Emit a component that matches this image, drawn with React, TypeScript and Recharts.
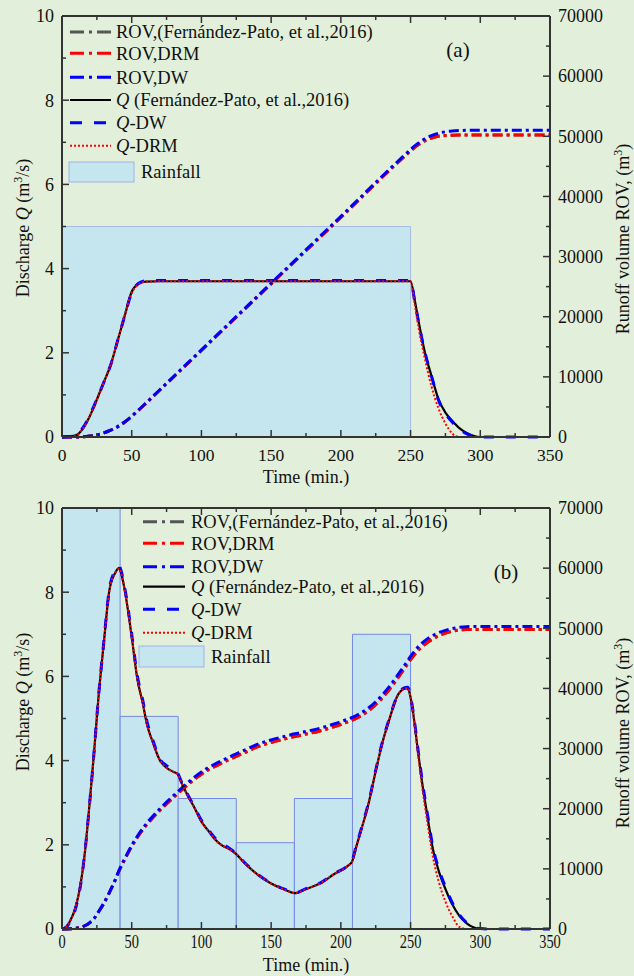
import React from "react"
import { ComposedChart, Line, XAxis, YAxis, ReferenceArea } from "recharts"

const FONT = '"Liberation Serif", "Times New Roman", serif'
const BG = "#e2efda"
const RAIN_FILL = "#c5e5ef"
const AXIS = "#333"

// shared ticks
const timeTicks = [0, 25, 50, 75, 100, 125, 150, 175, 200, 225, 250, 275, 300, 325, 350]
const qTicks = [0, 1, 2, 3, 4, 5, 6, 7, 8, 9, 10]
const rovTicks = [0, 5000, 10000, 15000, 20000, 25000, 30000, 35000, 40000, 45000, 50000, 55000, 60000, 65000, 70000]

// ---- panel (a): constant rainfall ----
const timeA = [0, 5, 10, 15, 20, 25, 30, 35, 40, 45, 50, 55, 60, 70, 100, 150, 200, 250, 253, 256, 260, 265, 270, 275, 280, 285, 290, 295, 300, 310, 350]
const qFpA = [0, 0.01, 0.04, 0.2, 0.5, 0.89, 1.3, 1.72, 2.3, 2.88, 3.45, 3.64, 3.69, 3.7, 3.7, 3.7, 3.7, 3.7, 3.25, 2.7, 2.05, 1.45, 0.9, 0.58, 0.38, 0.21, 0.1, 0.03, 0, 0, 0]
const qDwA = [0, 0.01, 0.05, 0.22, 0.52, 0.9, 1.3, 1.72, 2.3, 2.88, 3.43, 3.65, 3.71, 3.72, 3.72, 3.72, 3.72, 3.72, 3.22, 2.68, 2.05, 1.45, 0.88, 0.56, 0.35, 0.19, 0.08, 0.02, 0, 0, 0]
const qDrmA = [0, 0, 0.03, 0.2, 0.5, 0.88, 1.3, 1.72, 2.3, 2.9, 3.42, 3.63, 3.69, 3.7, 3.7, 3.7, 3.7, 3.7, 3.15, 2.55, 1.9, 1.2, 0.68, 0.32, 0.08, 0, 0, 0, 0, 0, 0]
const rovDwA = [0, 0, 10, 40, 150, 350, 680, 1130, 1730, 2500, 3450, 4500, 5600, 7820, 14480, 25580, 36680, 47780, 48400, 48950, 49550, 50100, 50500, 50750, 50880, 50950, 50990, 51000, 51000, 51000, 51000]
const rovDrmA = [0, 0, 10, 40, 150, 350, 680, 1130, 1730, 2490, 3430, 4470, 5560, 7770, 14400, 25450, 36500, 47550, 48150, 48680, 49220, 49700, 50000, 50130, 50190, 50200, 50200, 50200, 50200, 50200, 50200]
const rovFpA = [0, 0, 10, 40, 150, 350, 680, 1130, 1730, 2490, 3430, 4470, 5560, 7770, 14400, 25450, 36500, 47550, 48150, 48680, 49220, 49700, 50000, 50130, 50190, 50200, 50200, 50200, 50200, 50200, 50200]
const rainStartA = [0]
const rainEndA = [250]
const rainA = [5]

// ---- panel (b): variable rainfall ----
const timeB = [0, 3, 6, 10, 13, 16, 20, 23, 26, 30, 34, 38, 41, 42, 45, 50, 54, 58, 61, 65, 70, 75, 80, 83, 86, 90, 95, 100, 105, 110, 115, 120, 125, 130, 140, 150, 160, 167, 175, 185, 195, 205, 208, 211, 215, 220, 225, 230, 235, 240, 245, 248, 250, 252, 255, 258, 262, 266, 270, 275, 280, 285, 290, 295, 300, 310, 350]
const qFpB = [0, 0.05, 0.2, 0.55, 1.0, 1.7, 3.06, 4.2, 5.44, 6.8, 8.05, 8.45, 8.58, 8.5, 8.05, 6.94, 5.95, 5.35, 4.85, 4.45, 4.02, 3.83, 3.73, 3.68, 3.45, 3.18, 2.88, 2.55, 2.33, 2.12, 1.98, 1.9, 1.78, 1.6, 1.3, 1.08, 0.93, 0.85, 0.95, 1.08, 1.3, 1.5, 1.6, 1.95, 2.4, 3.0, 3.75, 4.45, 5.0, 5.5, 5.7, 5.72, 5.5, 5.1, 4.3, 3.55, 2.7, 1.9, 1.4, 0.95, 0.58, 0.31, 0.14, 0.04, 0, 0, 0]
const qDwB = [0, 0.04, 0.18, 0.52, 0.98, 1.7, 3.05, 4.2, 5.45, 6.82, 8.08, 8.5, 8.62, 8.55, 8.1, 7.0, 6.02, 5.42, 4.92, 4.5, 4.05, 3.88, 3.78, 3.7, 3.47, 3.2, 2.9, 2.58, 2.36, 2.15, 2.02, 1.92, 1.79, 1.61, 1.31, 1.09, 0.94, 0.86, 0.96, 1.09, 1.31, 1.51, 1.62, 1.97, 2.42, 3.02, 3.77, 4.47, 5.02, 5.5, 5.72, 5.74, 5.52, 5.13, 4.35, 3.6, 2.75, 1.95, 1.45, 1.0, 0.62, 0.34, 0.16, 0.05, 0.01, 0, 0]
const qDrmB = [0, 0.05, 0.2, 0.55, 1.0, 1.7, 3.06, 4.2, 5.44, 6.8, 8.05, 8.45, 8.56, 8.5, 8.05, 6.94, 5.95, 5.35, 4.85, 4.45, 4.02, 3.83, 3.73, 3.68, 3.45, 3.18, 2.88, 2.55, 2.33, 2.12, 1.98, 1.9, 1.78, 1.6, 1.3, 1.08, 0.93, 0.85, 0.95, 1.08, 1.3, 1.5, 1.6, 1.95, 2.4, 3.0, 3.75, 4.45, 5.0, 5.5, 5.7, 5.72, 5.5, 5.08, 4.25, 3.45, 2.55, 1.72, 1.15, 0.65, 0.3, 0.05, 0, 0, 0, 0, 0]
const rovDwB = [0, 0, 30, 120, 260, 500, 1070, 1750, 2800, 4300, 6100, 8100, 9800, 10300, 11700, 13900, 15400, 16750, 17650, 18700, 19950, 21100, 22200, 22850, 23480, 24280, 25250, 26100, 26850, 27450, 28050, 28600, 29120, 29650, 30700, 31450, 32050, 32450, 32850, 33380, 34080, 34900, 35170, 35490, 36000, 36780, 37780, 38980, 40390, 41950, 43620, 44640, 45310, 45940, 46790, 47490, 48240, 48810, 49260, 49660, 49960, 50160, 50260, 50290, 50300, 50300, 50300]
const rovDrmB = [0, 0, 30, 120, 260, 500, 1060, 1730, 2770, 4250, 6040, 8020, 9700, 10200, 11580, 13750, 15220, 16550, 17430, 18460, 19680, 20800, 21880, 22520, 23140, 23930, 24890, 25730, 26470, 27060, 27650, 28200, 28710, 29230, 30270, 31020, 31610, 32010, 32410, 32930, 33630, 34440, 34710, 35030, 35530, 36310, 37300, 38500, 39900, 41450, 43110, 44120, 44790, 45400, 46220, 46900, 47650, 48250, 48750, 49200, 49500, 49700, 49780, 49800, 49800, 49800, 49800]
const rovFpB = [0, 0, 30, 120, 260, 500, 1060, 1730, 2770, 4250, 6040, 8020, 9700, 10200, 11580, 13750, 15220, 16550, 17430, 18460, 19680, 20800, 21880, 22520, 23140, 23930, 24890, 25730, 26470, 27060, 27650, 28200, 28710, 29230, 30270, 31020, 31610, 32010, 32410, 32930, 33630, 34440, 34710, 35030, 35530, 36310, 37300, 38500, 39900, 41450, 43110, 44120, 44790, 45400, 46220, 46900, 47650, 48250, 48750, 49200, 49500, 49700, 49780, 49800, 49800, 49800, 49800]
const rainStartB = [0, 41.67, 83.33, 125, 166.67, 208.33]
const rainEndB = [41.67, 83.33, 125, 166.67, 208.33, 250]
const rainB = [10, 5.05, 3.1, 2.05, 3.1, 7]

const legendNames = [
  "ROV,(Fernández-Pato, et al.,2016)",
  "ROV,DRM",
  "ROV,DW",
  " (Fernández-Pato, et al.,2016)",
  "-DW",
  "-DRM",
]

const series = [
  { key: "rovFp", axis: "rov", stroke: "#555", w: 3, dash: "10 4 3 4", lg: "14 5 3 5" },
  { key: "rovDrm", axis: "rov", stroke: "#f00", w: 3, dash: "10 4 3 4", lg: "14 5 3 5" },
  { key: "rovDw", axis: "rov", stroke: "#00f", w: 3, dash: "10 4 3 4", lg: "14 5 3 5" },
  { key: "qFp", axis: "q", stroke: "#000", w: 2.2, dash: undefined, lg: undefined },
  { key: "qDw", axis: "q", stroke: "#00f", w: 3, dash: "10 12", lg: "12 12" },
  { key: "qDrm", axis: "q", stroke: "#f00", w: 2, dash: "2 2", lg: "2 2" },
]

function XTick(props: any) {
  const { x, y, payload, side, fs, off, sx } = props
  const v = payload.value
  const major = v % 50 === 0
  const len = major ? 7 : 4
  const dir = side === "top" ? 1 : -1
  return (
    <g>
      <line x1={x} x2={x} y1={y} y2={y + dir * len} stroke={AXIS} strokeWidth={1.5} />
      {side === "bottom" && major && (
        <text transform={`translate(${x},${y + off}) scale(${sx},1)`} textAnchor="middle" fontSize={fs} fontFamily={FONT} fill="#111">
          {v}
        </text>
      )}
    </g>
  )
}

function YTick(props: any) {
  const { x, y, payload, side, step } = props
  const v = payload.value
  const major = v % step === 0
  const len = major ? 7 : 4
  const dir = side === "left" ? 1 : -1
  return (
    <g>
      <line x1={x} x2={x + dir * len} y1={y} y2={y} stroke={AXIS} strokeWidth={1.5} />
      {major && (
        <text x={x - dir * 8} y={y} dy="0.35em" textAnchor={side === "left" ? "end" : "start"} fontSize={18} fontFamily={FONT} fill="#111">
          {v}
        </text>
      )}
    </g>
  )
}

function Panel(props: any) {
  const { p, cfg } = props
  const rows = p.time.map((t: number, i: number) => ({
    t,
    qFp: p.qFp[i],
    qDw: p.qDw[i],
    qDrm: p.qDrm[i],
    rovFp: p.rovFp[i],
    rovDrm: p.rovDrm[i],
    rovDw: p.rovDw[i],
  }))
  const lg = cfg.legend
  return (
    <div style={{ position: "relative", width: 634, height: 488 }}>
      <ComposedChart width={634} height={488} data={rows} margin={{ top: 0, right: 0, bottom: 0, left: 0 }}>
        {p.rain.map((h: number, i: number) => (
          <ReferenceArea
            key={i}
            xAxisId="bottom"
            yAxisId="q"
            x1={p.rainStart[i]}
            x2={p.rainEnd[i]}
            y1={0}
            y2={h}
            fill={RAIN_FILL}
            fillOpacity={1}
            stroke={cfg.rainStroke}
            strokeWidth={1}
            ifOverflow="visible"
          />
        ))}
        <XAxis
          xAxisId="top"
          orientation="top"
          dataKey="t"
          type="number"
          domain={[0, 350]}
          ticks={timeTicks}
          interval={0}
          height={cfg.topH}
          tickSize={0}
          tickMargin={0}
          axisLine={{ stroke: AXIS, strokeWidth: 2 }}
          tickLine={false}
          tick={(tp: any) => <XTick {...tp} side="top" />}
        />
        <XAxis
          xAxisId="bottom"
          orientation="bottom"
          dataKey="t"
          type="number"
          domain={[0, 350]}
          ticks={timeTicks}
          interval={0}
          height={cfg.bottomH}
          tickSize={0}
          tickMargin={0}
          axisLine={{ stroke: AXIS, strokeWidth: 2 }}
          tickLine={false}
          tick={(tp: any) => <XTick {...tp} side="bottom" fs={cfg.xFs} off={cfg.xOff} sx={cfg.xSx} />}
        />
        <YAxis
          yAxisId="q"
          orientation="left"
          type="number"
          domain={[0, 10]}
          ticks={qTicks}
          interval={0}
          width={62}
          tickSize={0}
          tickMargin={0}
          axisLine={{ stroke: AXIS, strokeWidth: 2 }}
          tickLine={false}
          tick={(tp: any) => <YTick {...tp} side="left" step={2} />}
        />
        <YAxis
          yAxisId="rov"
          orientation="right"
          type="number"
          domain={[0, 70000]}
          ticks={rovTicks}
          interval={0}
          width={84}
          tickSize={0}
          tickMargin={0}
          axisLine={{ stroke: AXIS, strokeWidth: 2 }}
          tickLine={false}
          tick={(tp: any) => <YTick {...tp} side="right" step={10000} />}
        />
        {series.map((s) => (
          <Line
            key={s.key}
            xAxisId="bottom"
            yAxisId={s.axis}
            dataKey={s.key}
            type="monotone"
            stroke={s.stroke}
            strokeWidth={s.w}
            strokeDasharray={s.dash}
            dot={false}
            activeDot={false}
            isAnimationActive={false}
          />
        ))}
      </ComposedChart>
      <svg width={634} height={488} style={{ position: "absolute", left: 0, top: 0, pointerEvents: "none" }} fontFamily={FONT} fill="#111">
        {series.map((s, i) => (
          <g key={s.key}>
            <line x1={lg.x0} x2={lg.x1} y1={lg.rows[i]} y2={lg.rows[i]} stroke={s.stroke} strokeWidth={s.w} strokeDasharray={s.lg} />
            <text x={lg.tx} y={lg.rows[i]} dy="0.35em" fontSize={18.5}>
              {i >= 3 && <tspan fontStyle="italic">Q</tspan>}
              {legendNames[i]}
            </text>
          </g>
        ))}
        <rect x={lg.box[0]} y={lg.box[1]} width={lg.box[2]} height={lg.box[3]} fill={RAIN_FILL} stroke="#9fb3ea" strokeWidth={1} />
        <text x={lg.rtx} y={lg.box[1] + lg.box[3] / 2} dy="0.35em" fontSize={18.5}>Rainfall</text>
        <text x={cfg.tag[0]} y={cfg.tag[1]} textAnchor="middle" fontSize={21}>{cfg.tagText}</text>
        <text x={306} y={cfg.timeY} textAnchor="middle" fontSize={18}>Time (min.)</text>
        <text transform={`translate(29,${cfg.leftY}) rotate(-90)`} textAnchor="middle" fontSize={18}>
          Discharge <tspan fontStyle="italic">Q</tspan> (m<tspan dy={-7} fontSize={12}>3</tspan><tspan dy={7}>/s)</tspan>
        </text>
        <text transform={`translate(629,${cfg.rightY}) rotate(-90)`} textAnchor="middle" fontSize={18}>
          Runoff volume ROV, (m<tspan dy={-7} fontSize={12}>3</tspan><tspan dy={7}>)</tspan>
        </text>
      </svg>
    </div>
  )
}

const panelA = { time: timeA, qFp: qFpA, qDw: qDwA, qDrm: qDrmA, rovFp: rovFpA, rovDrm: rovDrmA, rovDw: rovDwA, rainStart: rainStartA, rainEnd: rainEndA, rain: rainA }
const panelB = { time: timeB, qFp: qFpB, qDw: qDwB, qDrm: qDrmB, rovFp: rovFpB, rovDrm: rovDrmB, rovDw: rovDwB, rainStart: rainStartB, rainEnd: rainEndB, rain: rainB }

const cfgA = {
  topH: 16,
  bottomH: 51,
  xFs: 17.5,
  xOff: 24,
  xSx: 1,
  rainStroke: "#a6bce6",
  tag: [458, 57],
  tagText: "(a)",
  timeY: 483,
  leftY: 228,
  rightY: 239,
  legend: { x0: 70, x1: 111, tx: 116, rows: [32, 53.3, 77.3, 100, 122.7, 145.7], box: [69, 162, 65, 20], rtx: 141 },
}
const cfgB = {
  topH: 20,
  bottomH: 47,
  xFs: 19,
  xOff: 19,
  xSx: 0.76,
  rainStroke: "#7489e6",
  tag: [506, 91],
  tagText: "(b)",
  timeY: 483,
  leftY: 214,
  rightY: 245,
  legend: { x0: 143, x1: 185, tx: 191, rows: [33.7, 55.3, 78.7, 98.7, 121.3, 144.7], box: [139, 158, 65, 21], rtx: 211 },
}

export default function App() {
  return (
    <div style={{ position: "absolute", left: 0, top: 0, width: 634, height: 976, background: BG, overflow: "hidden" }}>
      <Panel p={panelA} cfg={cfgA} />
      <Panel p={panelB} cfg={cfgB} />
    </div>
  )
}
